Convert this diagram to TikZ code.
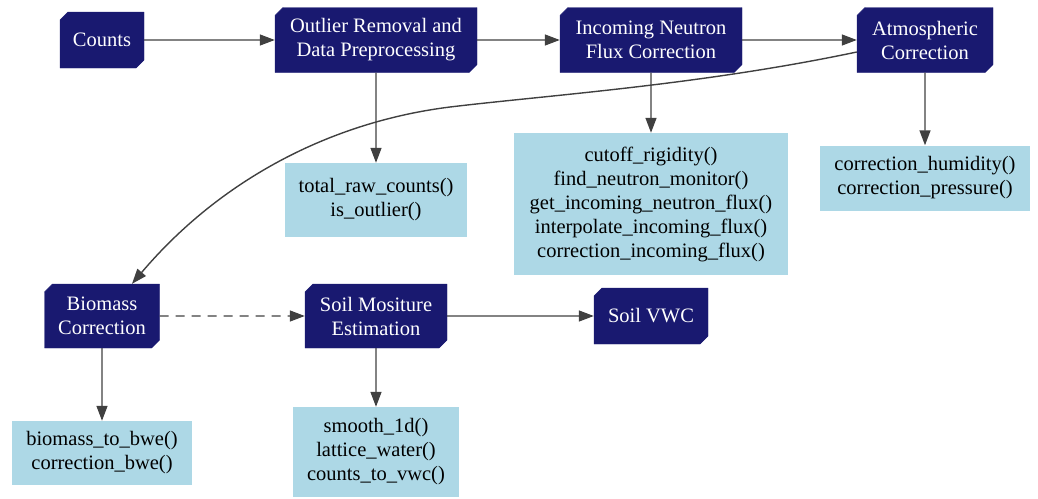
\documentclass[tikz,border=0pt]{standalone}
\usepackage{fontspec}
\setmainfont{Liberation Serif}
\newfontfamily\graphfont{Liberation Serif}
\usetikzlibrary{shapes.misc, arrows.meta}
\definecolor{NightBlue}{RGB}{25, 25, 112}
\definecolor{LightBlue}{RGB}{173, 216, 230}
\definecolor{EdgeGray}{RGB}{64, 64, 64}

\begin{document}
\begin{tikzpicture}[x = 1pt, y = -1pt,
    stage/.style = {chamfered rectangle, chamfered rectangle corners = {north west, south east},
        chamfered rectangle sep = 4pt, fill = NightBlue, draw = NightBlue, text = white,
        align = center, inner sep = 0pt, font = \graphfont\fontsize{20.5}{24}\selectfont},
    func/.style = {rectangle, fill = LightBlue, text = black, align = center,
        inner sep = 0pt, font = \graphfont\fontsize{20.5}{24}\selectfont},
    flow/.style = {EdgeGray, line width = 1.4pt, -{Triangle[length = 15pt, width = 11pt]}}]
    \useasboundingbox (0, 0) rectangle (1038, 498);
    %top row of stages
    \node[stage, minimum width = 84, minimum height = 56] (counts) at (102, 40) {Counts};
    \node[stage, minimum width = 202, minimum height = 65] (outlier) at (376, 40) {Outlier Removal and\\Data Preprocessing};
    \node[stage, minimum width = 182, minimum height = 65] (incoming) at (651, 40) {Incoming Neutron\\Flux Correction};
    \node[stage, minimum width = 136, minimum height = 65] (atmos) at (925, 40) {Atmospheric\\Correction};
    %functions of the top row
    \node[func, minimum width = 182, minimum height = 74] (rawfun) at (376, 200) {total\_raw\_counts()\\is\_outlier()};
    \node[func, minimum width = 274, minimum height = 142] (fluxfun) at (651, 204) {cutoff\_rigidity()\\find\_neutron\_monitor()\\get\_incoming\_neutron\_flux()\\interpolate\_incoming\_flux()\\correction\_incoming\_flux()};
    \node[func, minimum width = 210, minimum height = 65] (atmosfun) at (925, 178) {correction\_humidity()\\correction\_pressure()};
    %bottom row of stages
    \node[stage, minimum width = 115, minimum height = 64] (biomass) at (102, 316) {Biomass\\Correction};
    \node[stage, minimum width = 142, minimum height = 64] (soil) at (376, 316) {Soil Mositure\\Estimation};
    \node[stage, minimum width = 114, minimum height = 56] (vwc) at (651, 316) {Soil VWC};
    %functions of the bottom row
    \node[func, minimum width = 180, minimum height = 64] (biofun) at (102, 453) {biomass\_to\_bwe()\\correction\_bwe()};
    \node[func, minimum width = 166, minimum height = 90] (soilfun) at (376, 452) {smooth\_1d()\\lattice\_water()\\counts\_to\_vwc()};
    %connectors
    \draw[flow] (counts) -- (outlier);
    \draw[flow] (outlier) -- (incoming);
    \draw[flow] (incoming) -- (atmos);
    \draw[flow] (outlier) -- (rawfun);
    \draw[flow] (incoming) -- (fluxfun);
    \draw[flow] (atmos) -- (atmosfun);
    \draw[flow] ([yshift = -12pt]atmos.west) .. controls (700, 85) and (550, 95) .. (450, 107)
        .. controls (330, 122) and (220, 180) .. ([xshift = 30pt]biomass.north);
    \draw[flow, dash pattern = on 9pt off 7pt] (biomass) -- (soil);
    \draw[flow] (soil) -- (vwc);
    \draw[flow] (biomass) -- (biofun);
    \draw[flow] (soil) -- (soilfun);
\end{tikzpicture}
\end{document}
